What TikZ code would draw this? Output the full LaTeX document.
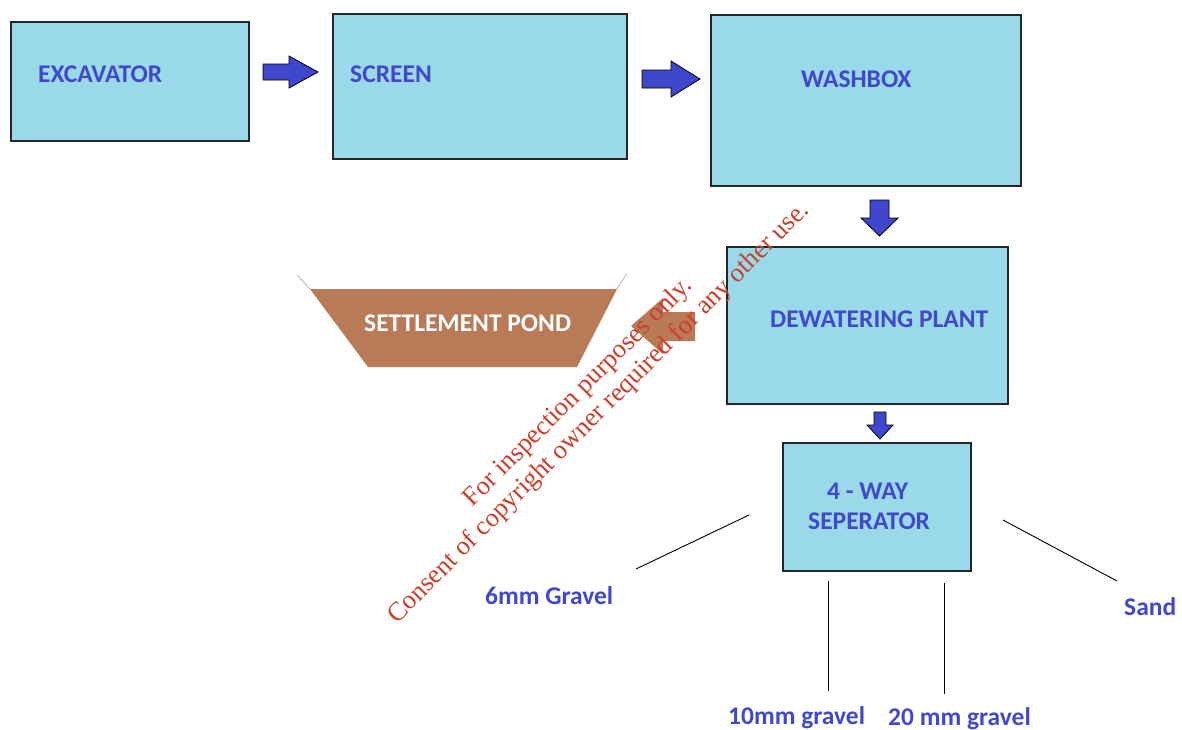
\documentclass[tikz,border=0pt]{standalone}
\usepackage{fontspec}
\setmainfont{Liberation Serif}
\newfontfamily\labelfont{Carlito}
\definecolor{boxcyan}{RGB}{153,217,234}
\definecolor{lblblue}{RGB}{66,72,204}
\definecolor{arrowblue}{RGB}{63,72,204}
\definecolor{pondbrown}{RGB}{185,122,87}
\definecolor{wmred}{RGB}{205,62,42}
\begin{document}
\begin{tikzpicture}[x=1pt,y=-1pt,
	box/.style={draw=black!85,line width=1.3pt,fill=boxcyan,inner sep=0pt},
	lbl/.style={anchor=base west,inner sep=0pt,text=lblblue,font=\labelfont\bfseries\fontsize{25.5}{29}\selectfont},
	barrow/.style={fill=arrowblue,draw=black,line width=0.8pt,line join=miter},
	outline/.style={black,line width=0.9pt}]
		\useasboundingbox[fill=white] (0,0) rectangle (1182,729);
		% Boxes
		\node[box,minimum width=238pt,minimum height=119pt] (excavator) at (130,81.5) {};
		\node[box,minimum width=294pt,minimum height=145pt] (screen) at (480,86.5) {};
		\node[box,minimum width=310pt,minimum height=171pt] (washbox) at (866,100.5) {};
		\node[box,minimum width=281pt,minimum height=157pt] (dewater) at (867.5,325.5) {};
		\node[box,minimum width=188pt,minimum height=128pt] (separator) at (877,507) {};
		% Box labels
		\node[lbl] (excavatorT) at (38,82) {EXCAVATOR};
		\node[lbl] (screenT) at (350,82) {SCREEN};
		\node[lbl] (washboxT) at (801,87) {WASHBOX};
		\node[lbl] (dewaterT) at (770,327) {DEWATERING PLANT};
		\node[lbl] (wayT) at (827,499) {4 - WAY};
		\node[lbl] (separatorT) at (808,529) {SEPERATOR};
		% Block arrows
		\filldraw[barrow] (263,64) -- (289,64) -- (289,56) -- (318,72) -- (289,88) -- (289,80) -- (263,80) -- cycle;
		\filldraw[barrow] (642,70) -- (671,70) -- (671,61) -- (700,79) -- (671,97) -- (671,88) -- (642,88) -- cycle;
		\filldraw[barrow] (870,200) -- (889,200) -- (889,218) -- (898,218) -- (879.5,236) -- (861,218) -- (870,218) -- cycle;
		\filldraw[barrow] (874,412) -- (886,412) -- (886,425) -- (893,425) -- (880,439) -- (867,425) -- (874,425) -- cycle;
		% Settlement pond
		\fill[pondbrown] (310,289) -- (617,289) -- (577,367) -- (368,367) -- cycle;
		\draw[pondbrown!70,line width=0.7pt] (297,275) -- (310,289);
		\draw[pondbrown!70,line width=0.7pt] (627,273) -- (617,289);
		\node[lbl,text=white] (pondT) at (364,331) {SETTLEMENT POND};
		\fill[pondbrown] (631,326) -- (663,298) -- (663,312) -- (695,312) -- (695,341) -- (663,341) -- (663,354) -- cycle;
		% Separator outputs
		\coordinate (o1a) at (749,515); \coordinate (o1b) at (636,569);
		\coordinate (o2a) at (828,581); \coordinate (o2b) at (828,691);
		\coordinate (o3a) at (944,583); \coordinate (o3b) at (944,694);
		\coordinate (o4a) at (1003,520); \coordinate (o4b) at (1117,581);
		\draw[outline] (o1a) -- (o1b);
		\draw[outline] (o2a) -- (o2b);
		\draw[outline] (o3a) -- (o3b);
		\draw[outline] (o4a) -- (o4b);
		\node[lbl] (gravelsix) at (485,604) {6mm Gravel};
		\node[lbl] (gravelten) at (728,724) {10mm gravel};
		\node[lbl] (graveltwenty) at (888,725) {20 mm gravel};
		\node[lbl] (sand) at (1124,615) {Sand};
		% Watermark
		\node[rotate=45,align=center,inner sep=0pt,text=wmred,font=\fontsize{26.5}{29}\selectfont] (wm) at (589,403)
			{For inspection purposes only.\\Consent of copyright owner required for any other use.};
\end{tikzpicture}
\end{document}
